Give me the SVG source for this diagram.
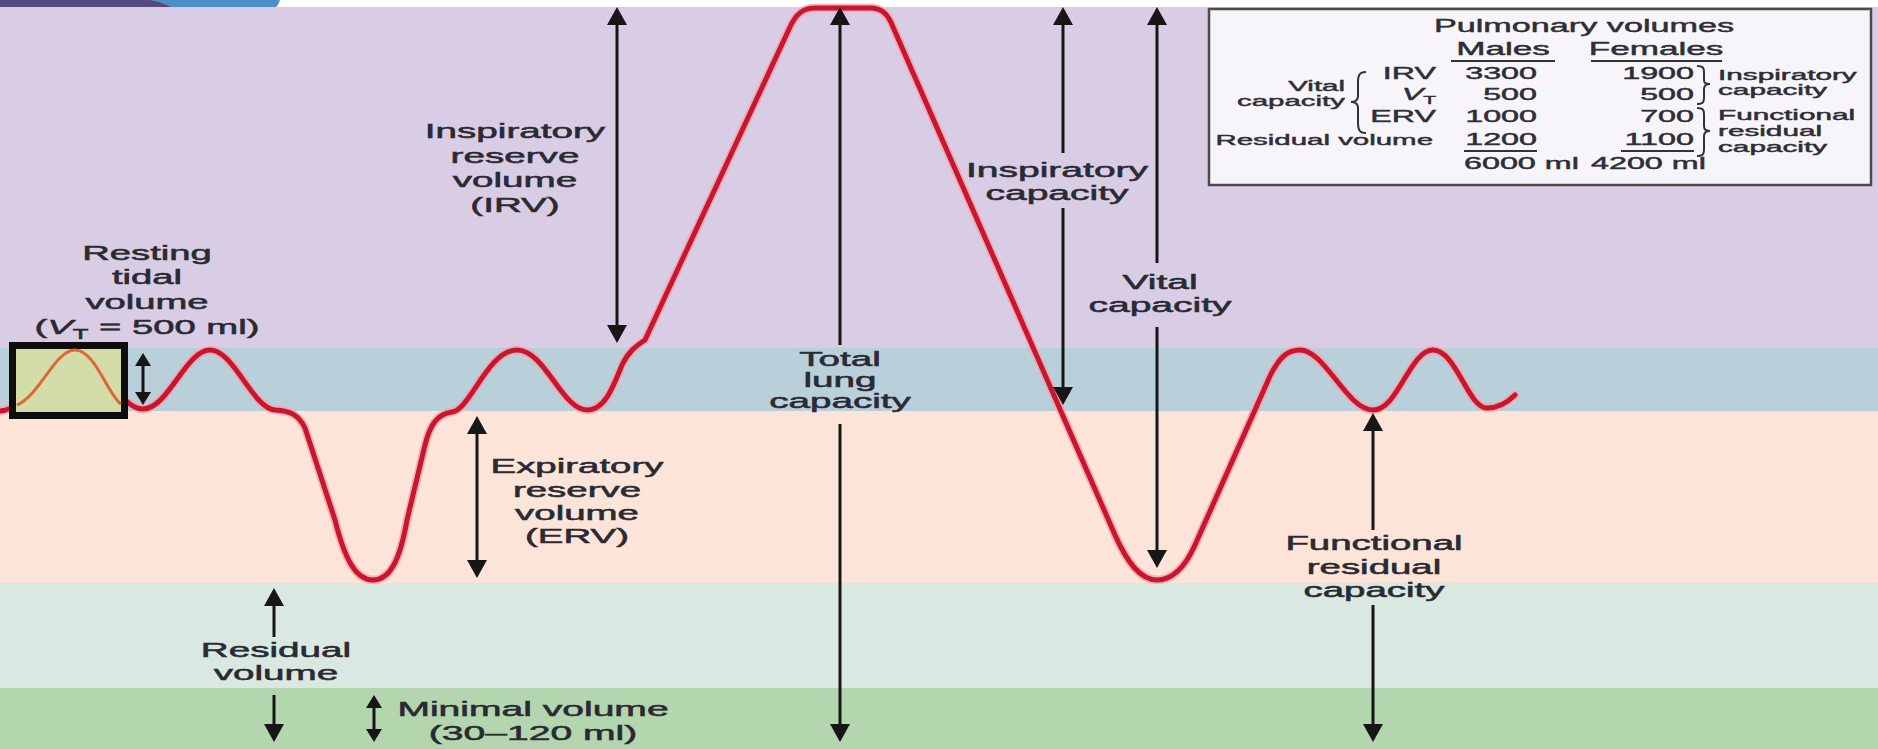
<svg xmlns="http://www.w3.org/2000/svg" width="1878" height="749" viewBox="0 0 1878 749">
<defs>
<style>
.lbl{font-family:"Liberation Sans",Arial,Helvetica,sans-serif;font-size:21px;fill:#2a2a33;stroke:#2a2a33;stroke-width:0.55px;text-anchor:middle}
.tb{font-family:"Liberation Sans",Arial,Helvetica,sans-serif;fill:#2e2e36;stroke:#2e2e36;stroke-width:0.45px}
.arr{stroke:#161616;stroke-width:3;fill:none}
.big{marker-start:url(#ah);marker-end:url(#ah)}
.curve{fill:none;stroke:#c8162f;stroke-width:5;stroke-linejoin:round;stroke-linecap:round}
.halo{fill:none;stroke:#f2a2ac;stroke-width:8.5;stroke-linejoin:round;stroke-linecap:round;opacity:0.8}
.ul{stroke:#333;stroke-width:2}
.brace{fill:none;stroke:#333;stroke-width:2}
</style>
<marker id="ah" markerUnits="userSpaceOnUse" markerWidth="18" markerHeight="20" refX="0" refY="10" orient="auto-start-reverse"><path d="M0,0 L18,10 L0,20 z" fill="#161616"/></marker>
<marker id="ahs" markerUnits="userSpaceOnUse" markerWidth="13" markerHeight="16" refX="0" refY="8" orient="auto-start-reverse"><path d="M0,0 L13,8 L0,16 z" fill="#161616"/></marker>
</defs>

<g id="background">
<rect x="0" y="0" width="1878" height="749" fill="#ffffff"/>
<rect x="0" y="7" width="1878" height="342" fill="#d9cce5"/>
<rect x="0" y="348" width="1878" height="63" fill="#b9d0da"/>
<rect x="0" y="411" width="1878" height="172" fill="#fce4d8"/>
<rect x="0" y="583" width="1878" height="105" fill="#d9e9e2"/>
<rect x="0" y="688" width="1878" height="61" fill="#b3d6ae"/>
<path d="M150,0 H280 C279,3 278,5 276,7 H172 C165,4 158,0 150,0 Z" fill="#4a8fc8"/>
<path d="M0,0 H150 C158,0 165,4 172,7 H0 Z" fill="#524a80"/>
</g>

<g id="volume-curve">
<path class="halo" d="M0,411 C30,410 52,350 75,350 C98,350 118,409 143,409 C168,409 186,350 210,350 C234,350 252,408 275,410 C290,411 298,414 305,428 L335,520 C345,560 356,580 373,580 C390,580 400,560 407,520 L425,445 C430,425 437,414 452,412 C470,410 488,350 517,350 C545,350 562,410 587,410 C604,410 612,390 622,365 C628,352 636,346 645,340 L790,27 C796,14 803,8 815,8 L870,8 C882,8 888,14 893,27 L1115,535 C1127,562 1140,580 1157,580 C1174,580 1186,565 1195,545 L1270,376 C1280,356 1288,350 1300,350 C1325,350 1347,410 1373,410 C1398,410 1410,350 1433,350 C1456,350 1468,408 1487,408 C1500,408 1508,402 1515,395"/>
<path class="curve" d="M0,411 C30,410 52,350 75,350 C98,350 118,409 143,409 C168,409 186,350 210,350 C234,350 252,408 275,410 C290,411 298,414 305,428 L335,520 C345,560 356,580 373,580 C390,580 400,560 407,520 L425,445 C430,425 437,414 452,412 C470,410 488,350 517,350 C545,350 562,410 587,410 C604,410 612,390 622,365 C628,352 636,346 645,340 L790,27 C796,14 803,8 815,8 L870,8 C882,8 888,14 893,27 L1115,535 C1127,562 1140,580 1157,580 C1174,580 1186,565 1195,545 L1270,376 C1280,356 1288,350 1300,350 C1325,350 1347,410 1373,410 C1398,410 1410,350 1433,350 C1456,350 1468,408 1487,408 C1500,408 1508,402 1515,395"/>
</g>

<g id="tidal-box">
<rect x="12.5" y="345.5" width="112" height="70" fill="#d4dca8" stroke="#0d0d0d" stroke-width="7"/>
<path d="M17,405 C40,395 55,350 75,350 C95,350 108,395 121,404" fill="none" stroke="#e0663a" stroke-width="3"/>
</g>

<g id="connectors">
<line class="arr" x1="143" y1="366" x2="143" y2="392" marker-start="url(#ahs)" marker-end="url(#ahs)"/>
<line class="arr big" x1="617" y1="25" x2="617" y2="325"/>
<line class="arr" x1="840" y1="25" x2="840" y2="345" marker-start="url(#ah)"/>
<line class="arr" x1="840" y1="424" x2="840" y2="724" marker-end="url(#ah)"/>
<line class="arr" x1="1063" y1="25" x2="1063" y2="153" marker-start="url(#ah)"/>
<line class="arr" x1="1063" y1="208" x2="1063" y2="387" marker-end="url(#ah)"/>
<line class="arr" x1="1157" y1="25" x2="1157" y2="263" marker-start="url(#ah)"/>
<line class="arr" x1="1157" y1="327" x2="1157" y2="550" marker-end="url(#ah)"/>
<line class="arr big" x1="477" y1="434" x2="477" y2="560"/>
<line class="arr" x1="274" y1="606" x2="274" y2="637" marker-start="url(#ah)"/>
<line class="arr" x1="274" y1="695" x2="274" y2="724" marker-end="url(#ah)"/>
<line class="arr" x1="374" y1="708" x2="374" y2="729" marker-start="url(#ahs)" marker-end="url(#ahs)"/>
<line class="arr" x1="1373" y1="431" x2="1373" y2="530" marker-start="url(#ah)"/>
<line class="arr" x1="1373" y1="605" x2="1373" y2="724" marker-end="url(#ah)"/>
</g>

<g id="label-tidal" transform="translate(147,0) scale(1.82,1)">
<text class="lbl" x="0" y="260">Resting</text>
<text class="lbl" x="0" y="284">tidal</text>
<text class="lbl" x="0" y="309">volume</text>
<text class="lbl" x="0" y="334">(<tspan font-style="italic">V</tspan><tspan font-size="14" dy="5">T</tspan><tspan dy="-5"> = 500 ml)</tspan></text>
</g>

<g id="label-irv" transform="translate(515,0) scale(1.84,1)">
<text class="lbl" x="0" y="138">Inspiratory</text>
<text class="lbl" x="0" y="163">reserve</text>
<text class="lbl" x="0" y="187">volume</text>
<text class="lbl" x="0" y="212">(IRV)</text>
</g>

<g id="label-tlc" transform="translate(840,0) scale(1.84,1)">
<text class="lbl" x="0" y="366">Total</text>
<text class="lbl" x="0" y="387">lung</text>
<text class="lbl" x="0" y="408">capacity</text>
</g>

<g id="label-ic" transform="translate(1057,0) scale(1.86,1)">
<text class="lbl" x="0" y="177">Inspiratory</text>
<text class="lbl" x="0" y="200">capacity</text>
</g>

<g id="label-vc" transform="translate(1160,0) scale(1.86,1)">
<text class="lbl" x="0" y="289">Vital</text>
<text class="lbl" x="0" y="312">capacity</text>
</g>

<g id="label-erv" transform="translate(577,0) scale(1.83,1)">
<text class="lbl" x="0" y="473">Expiratory</text>
<text class="lbl" x="0" y="497">reserve</text>
<text class="lbl" x="0" y="520">volume</text>
<text class="lbl" x="0" y="543">(ERV)</text>
</g>

<g id="label-frc" transform="translate(1374,0) scale(1.83,1)">
<text class="lbl" x="0" y="550">Functional</text>
<text class="lbl" x="0" y="574">residual</text>
<text class="lbl" x="0" y="597">capacity</text>
</g>

<g id="label-rv" transform="translate(276,0) scale(1.84,1)">
<text class="lbl" x="0" y="657">Residual</text>
<text class="lbl" x="0" y="680">volume</text>
</g>

<g id="label-minimal" transform="translate(533,0) scale(1.86,1)">
<text class="lbl" x="0" y="716">Minimal volume</text>
<text class="lbl" x="0" y="740">(30–120 ml)</text>
</g>

<g id="table">
<rect x="1209" y="9" width="662" height="176" fill="#f7f5f9" stroke="#4a4a4a" stroke-width="2.5"/>
<text class="tb" font-size="19" text-anchor="middle" transform="translate(1584,32) scale(1.8,1)">Pulmonary volumes</text>
<text class="tb" font-size="18" text-anchor="middle" transform="translate(1503,55) scale(1.95,1)">Males</text>
<text class="tb" font-size="18" text-anchor="middle" transform="translate(1656,55) scale(1.95,1)">Females</text>
<line class="ul" x1="1451" y1="61" x2="1555" y2="61"/>
<line class="ul" x1="1591" y1="61" x2="1722" y2="61"/>
<text class="tb" font-size="15.5" text-anchor="end" transform="translate(1345,91) scale(1.9,1)">Vital</text>
<text class="tb" font-size="15.5" text-anchor="end" transform="translate(1345,106) scale(1.9,1)">capacity</text>
<path class="brace" d="M1366,72 C1359,72 1358,76 1358,82 L1358,96 C1358,100 1356,102 1351,102 C1356,102 1358,104 1358,108 L1358,123 C1358,129 1359,133 1366,133"/>
<text class="tb" font-size="17" text-anchor="end" transform="translate(1436,79) scale(1.9,1)">IRV</text>
<text class="tb" font-size="17" text-anchor="end" transform="translate(1436,100) scale(1.9,1)"><tspan font-style="italic">V</tspan><tspan font-size="11" dy="4">T</tspan></text>
<text class="tb" font-size="17" text-anchor="end" transform="translate(1436,122) scale(1.9,1)">ERV</text>
<text class="tb" font-size="15.5" text-anchor="end" transform="translate(1433,145) scale(1.9,1)">Residual volume</text>
<text class="tb" font-size="17" text-anchor="end" transform="translate(1537,79) scale(1.9,1)">3300</text>
<text class="tb" font-size="17" text-anchor="end" transform="translate(1537,100) scale(1.9,1)">500</text>
<text class="tb" font-size="17" text-anchor="end" transform="translate(1537,122) scale(1.9,1)">1000</text>
<text class="tb" font-size="17" text-anchor="end" transform="translate(1537,145) scale(1.9,1)">1200</text>
<line class="ul" x1="1464" y1="151" x2="1537" y2="151"/>
<text class="tb" font-size="17" text-anchor="start" transform="translate(1464,169) scale(1.9,1)">6000 ml</text>
<text class="tb" font-size="17" text-anchor="end" transform="translate(1694,79) scale(1.9,1)">1900</text>
<text class="tb" font-size="17" text-anchor="end" transform="translate(1694,100) scale(1.9,1)">500</text>
<text class="tb" font-size="17" text-anchor="end" transform="translate(1694,122) scale(1.9,1)">700</text>
<text class="tb" font-size="17" text-anchor="end" transform="translate(1694,145) scale(1.9,1)">1100</text>
<line class="ul" x1="1621" y1="151" x2="1694" y2="151"/>
<text class="tb" font-size="17" text-anchor="start" transform="translate(1591,169) scale(1.9,1)">4200 ml</text>
<path class="brace" d="M1697,66 C1703,66 1704,68 1704,72 L1704,80 C1704,83 1705,84 1710,84 C1705,84 1704,86 1704,89 L1704,98 C1704,102 1703,104 1697,104"/>
<path class="brace" d="M1697,108 C1703,108 1704,110 1704,114 L1704,126 C1704,129 1705,131 1710,131 C1705,131 1704,133 1704,136 L1704,150 C1704,154 1703,156 1697,156"/>
<text class="tb" font-size="14.5" text-anchor="start" transform="translate(1718,80) scale(2.05,1)">Inspiratory</text>
<text class="tb" font-size="14.5" text-anchor="start" transform="translate(1718,95) scale(2.05,1)">capacity</text>
<text class="tb" font-size="14.5" text-anchor="start" transform="translate(1718,120) scale(2.05,1)">Functional</text>
<text class="tb" font-size="14.5" text-anchor="start" transform="translate(1718,136) scale(2.05,1)">residual</text>
<text class="tb" font-size="14.5" text-anchor="start" transform="translate(1718,152) scale(2.05,1)">capacity</text>
</g>
</svg>
